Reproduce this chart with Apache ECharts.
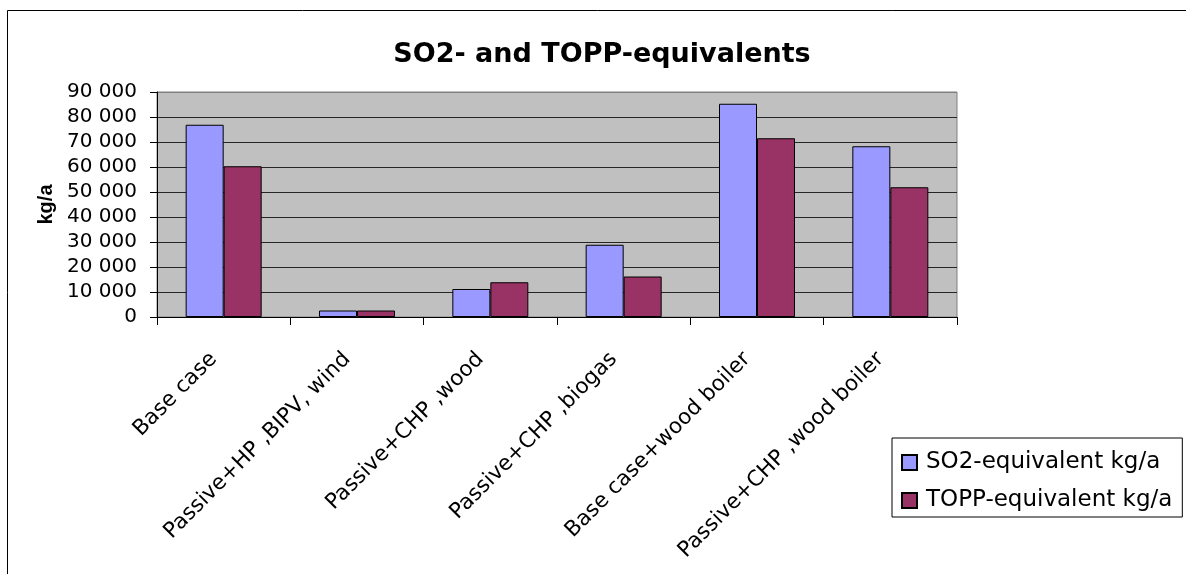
<!DOCTYPE html>
<html>
<head>
<meta charset="utf-8">
<script src="https://cdn.jsdelivr.net/npm/echarts/dist/echarts.min.js"></script>
<style>
  html, body { margin: 0; padding: 0; background: #ffffff; }
  #chart { width: 1186px; height: 574px; }
</style>
</head>
<body>
<div id="chart"></div>
<script>
// Scenario categories on the x axis
const categories = [
  'Base case',
  'Passive+HP ,BIPV, wind',
  'Passive+CHP ,wood',
  'Passive+CHP ,biogas',
  'Base case+wood boiler',
  'Passive+CHP ,wood boiler'
];

// Emissions per scenario, kg per year
const so2Values  = [76900, 2600, 11200, 28900, 85300, 68300];
const toppValues = [60300, 2600, 13900, 16200, 71500, 51900];

const seriesNames = ['SO2-equivalent kg/a', 'TOPP-equivalent kg/a'];

// Value axis range and step
const yAxisMin = 0;
const yAxisMax = 90000;
const yAxisStep = 10000;

const chartTitle = 'SO2- and TOPP-equivalents';
const yAxisTitle = 'kg/a';

// "90000" -> "90 000"
function groupThousands(v) {
  return String(v).replace(/\B(?=(\d{3})+(?!\d))/g, ' ');
}

const gridLineCount = Math.round((yAxisMax - yAxisMin) / yAxisStep) + 1;
const gridLineColors = [];
for (let i = 0; i < gridLineCount; i++) {
  gridLineColors.push(i === gridLineCount - 1 ? '#808080' : '#262626');
}

const chart = echarts.init(document.getElementById('chart'), null, { renderer: 'canvas' });

chart.setOption({
  animation: false,
  backgroundColor: '#ffffff',
  title: {
    text: chartTitle,
    left: 602,
    top: 41,
    textAlign: 'center',
    padding: 0,
    textStyle: {
      fontFamily: 'DejaVu Sans',
      fontWeight: 'bold',
      fontSize: 27,
      color: '#000000'
    }
  },
  graphic: [{
    type: 'rect',
    silent: true,
    z: 0,
    shape: { x: 7.5, y: 10.5, width: 1200, height: 600 },
    style: { fill: 'none', stroke: '#000000', lineWidth: 1 }
  }],
  legend: {
    orient: 'vertical',
    left: 892,
    top: 438,
    padding: [13, 10, 5, 9],
    itemGap: 15,
    itemWidth: 15,
    itemHeight: 15,
    borderColor: '#000000',
    borderWidth: 1,
    backgroundColor: '#ffffff',
    icon: 'rect',
    textStyle: {
      fontFamily: 'DejaVu Sans',
      fontSize: 23,
      lineHeight: 23,
      color: '#000000',
      padding: [0, 0, 0, 4]
    },
    data: seriesNames
  },
  grid: {
    left: 157,
    top: 92,
    right: 229,
    bottom: 257,
    show: true,
    backgroundColor: '#C0C0C0',
    borderColor: '#808080',
    borderWidth: 1
  },
  xAxis: {
    type: 'category',
    data: categories,
    boundaryGap: true,
    axisLine: { show: true, lineStyle: { color: '#000000', width: 1 } },
    axisTick: { show: true, length: 8, lineStyle: { color: '#000000', width: 1 } },
    axisLabel: {
      interval: 0,
      rotate: 45,
      margin: 29,
      fontFamily: 'DejaVu Sans',
      fontSize: 21.5,
      color: '#000000',
      padding: [0, 14, 0, 0]
    },
    splitLine: { show: false }
  },
  yAxis: {
    type: 'value',
    min: yAxisMin,
    max: yAxisMax,
    interval: yAxisStep,
    name: yAxisTitle,
    nameLocation: 'middle',
    nameGap: 100,
    nameTextStyle: {
      fontFamily: 'Liberation Sans',
      fontWeight: 'bold',
      fontSize: 20,
      color: '#000000'
    },
    axisLine: { show: true, lineStyle: { color: '#000000', width: 1 } },
    axisTick: { show: true, length: 7, lineStyle: { color: '#000000', width: 1 } },
    axisLabel: {
      margin: 20,
      fontFamily: 'DejaVu Sans',
      fontSize: 20,
      color: '#000000',
      formatter: groupThousands
    },
    splitLine: { show: true, lineStyle: { color: gridLineColors, width: 1 } }
  },
  series: [
    {
      name: seriesNames[0],
      type: 'bar',
      data: so2Values,
      barGap: '0%',
      barCategoryGap: '43%',
      itemStyle: { color: '#9999FF', borderColor: '#000000', borderWidth: 1 }
    },
    {
      name: seriesNames[1],
      type: 'bar',
      data: toppValues,
      barGap: '0%',
      barCategoryGap: '43%',
      itemStyle: { color: '#993366', borderColor: '#000000', borderWidth: 1 }
    }
  ]
});
</script>
</body>
</html>
